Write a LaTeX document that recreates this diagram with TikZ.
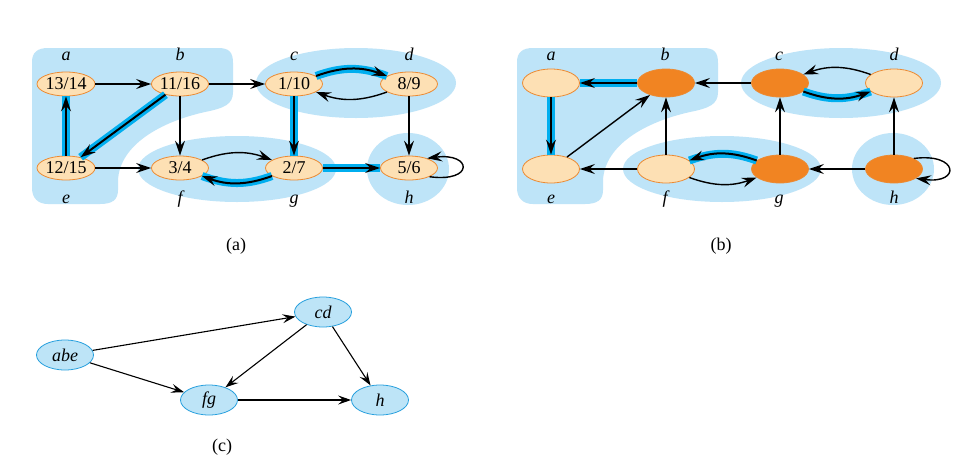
\documentclass[tikz,border=0pt]{standalone}
\usepackage{fontspec}
\setmainfont{Liberation Serif}
\usetikzlibrary{shapes.geometric,arrows.meta}
\definecolor{regblue}{RGB}{190,228,248}
\definecolor{hlblue}{RGB}{0,174,239}
\definecolor{nfill}{RGB}{253,224,180}
\definecolor{nbord}{RGB}{236,138,50}
\definecolor{norange}{RGB}{241,132,34}
\definecolor{cfill}{RGB}{189,228,247}
\definecolor{cbord}{RGB}{40,160,222}
\newcommand\myhl[3][]{\draw[hl] (#2) to[#1] (#3); \draw[arrh] (#2) to[#1] (#3);}
\begin{document}
\begin{tikzpicture}[x=1pt,y=1pt,
  vtx/.style={ellipse,draw=nbord,fill=nfill,line width=0.8pt,minimum width=57pt,minimum height=24pt,inner sep=0pt,font=\fontsize{18}{18}\selectfont},
  vtxb/.style={vtx,minimum height=28pt},
  dark/.style={fill=norange},
  lbl/.style={font=\fontsize{18}{18}\selectfont\itshape,anchor=base,inner sep=0pt},
  region/.style={fill=regblue},
  arr/.style={draw=black,line width=1.4pt,-{Stealth[length=15pt,width=10pt,inset=5.5pt]}},
  arrh/.style={arr,line width=2pt},
  hl/.style={draw=hlblue,line width=8pt},
  cnode/.style={ellipse,draw=cbord,fill=cfill,line width=0.8pt,minimum width=57pt,minimum height=30pt,inner sep=0pt,font=\fontsize{18}{18}\selectfont\itshape},
  carr/.style={draw=black,line width=1.1pt,-{Stealth[length=13pt,width=9pt,inset=5pt]}},
  captxt/.style={font=\fontsize{18}{18}\selectfont,inner sep=0pt}
]
\useasboundingbox (0,0) rectangle (958,-472);
\fill[white] (0,0) rectangle (958,-472);
% shaded components for (a) and (b)
\foreach \dx in {0,485} {
\begin{scope}[xshift=\dx]
\fill[region] (48,-48) -- (218,-48) .. controls (229,-48) and (233,-52) .. (233,-63) -- (233,-92) .. controls (233,-104) and (225,-108) .. (205,-112) .. controls (160,-122) and (120,-145) .. (118,-180) -- (118,-190) .. controls (118,-200) and (112,-204) .. (100,-204) -- (48,-204) .. controls (38,-204) and (32,-198) .. (32,-188) -- (32,-62) .. controls (32,-52) and (38,-48) .. (48,-48) -- cycle;
\fill[region] (237,-169) ellipse [x radius=99, y radius=33];
\fill[region] (356,-83) ellipse [x radius=100, y radius=35];
\fill[region] (408,-169) ellipse [x radius=41, y radius=36];
\node[lbl] at (66,-60) {a};
\node[lbl] at (180,-60) {b};
\node[lbl] at (294,-60) {c};
\node[lbl] at (409,-60) {d};
\node[lbl] at (66,-203) {e};
\node[lbl] at (180,-203) {f};
\node[lbl] at (294,-203) {g};
\node[lbl] at (409,-203) {h};
\end{scope}
}
% (a)
\node[vtx] (a) at (66,-84) {13/14};
\node[vtx] (b) at (180,-84) {11/16};
\node[vtx] (c) at (294,-84) {1/10};
\node[vtx] (d) at (409,-84) {8/9};
\node[vtx] (e) at (66,-168) {12/15};
\node[vtx] (f) at (180,-168) {3/4};
\node[vtx] (g) at (294,-168) {2/7};
\node[vtx] (h) at (409,-168) {5/6};
\draw[arr] (a) -- (b);
\draw[arr] (b) -- (c);
\draw[arr] (b) -- (f);
\draw[arr] (e) -- (f);
\draw[arr] (d) -- (h);
\myhl{b}{e}
\myhl{e}{a}
\myhl{c}{g}
\myhl{g}{h}
\draw[arr] (f) to[bend left=20] (g);
\myhl[bend left=20]{g}{f}
\myhl[bend left=20]{c}{d}
\draw[arr] (d) to[bend left=20] (c);
\draw[arr] (h.-23) .. controls +(45,-6) and +(45,6) .. (h.28);
% (b)
\node[vtxb] (a2) at (551,-83) {};
\node[vtxb,dark] (b2) at (666,-83) {};
\node[vtxb,dark] (c2) at (780,-83) {};
\node[vtxb] (d2) at (894,-83) {};
\node[vtxb] (e2) at (551,-169) {};
\node[vtxb] (f2) at (666,-169) {};
\node[vtxb,dark] (g2) at (780,-169) {};
\node[vtxb,dark] (h2) at (894,-169) {};
\myhl{b2}{a2}
\myhl{a2}{e2}
\draw[arr] (e2) -- (b2);
\draw[arr] (f2) -- (b2);
\draw[arr] (f2) -- (e2);
\draw[arr] (c2) -- (b2);
\myhl[bend right=20]{g2}{f2}
\draw[arr] (f2) to[bend right=20] (g2);
\draw[arr] (d2) to[bend right=20] (c2);
\myhl[bend right=20]{c2}{d2}
\draw[arr] (g2) -- (c2);
\draw[arr] (h2) -- (d2);
\draw[arr] (h2) -- (g2);
\draw[arr] (h2.28) .. controls +(45,6) and +(45,-6) .. (h2.-23);
% (c)
\node[cnode] (abe) at (65,-355) {abe};
\node[cnode] (cd) at (323,-312) {cd};
\node[cnode] (fg) at (209,-400) {fg};
\node[cnode] (hh) at (380,-400) {h};
\draw[carr] (abe) -- (cd);
\draw[carr] (abe) -- (fg);
\draw[carr] (cd) -- (fg);
\draw[carr] (cd) -- (hh);
\draw[carr] (fg) -- (hh);
% captions
\node[captxt] (capa) at (236,-246) {(a)};
\node[captxt] (capb) at (721,-246) {(b)};
\node[captxt] (capc) at (222,-447) {(c)};
\end{tikzpicture}
\end{document}
